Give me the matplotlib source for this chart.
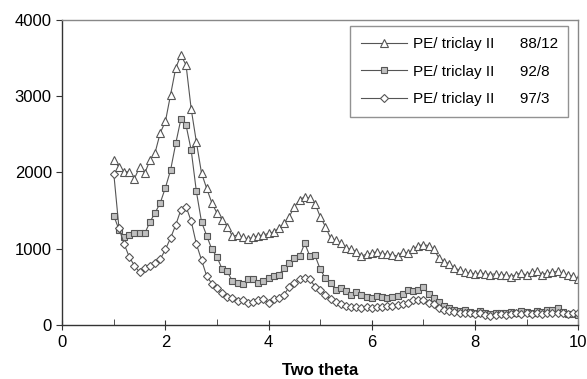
import matplotlib.pyplot as plt
from matplotlib.ticker import MultipleLocator

plt.rcParams['font.family'] = ['Liberation Sans', 'DejaVu Sans']

two_theta = [1.0, 1.1, 1.2, 1.3, 1.4, 1.5, 1.6, 1.7, 1.8, 1.9,
             2.0, 2.1, 2.2, 2.3, 2.4, 2.5, 2.6, 2.7, 2.8, 2.9,
             3.0, 3.1, 3.2, 3.3, 3.4, 3.5, 3.6, 3.7, 3.8, 3.9,
             4.0, 4.1, 4.2, 4.3, 4.4, 4.5, 4.6, 4.7, 4.8, 4.9,
             5.0, 5.1, 5.2, 5.3, 5.4, 5.5, 5.6, 5.7, 5.8, 5.9,
             6.0, 6.1, 6.2, 6.3, 6.4, 6.5, 6.6, 6.7, 6.8, 6.9,
             7.0, 7.1, 7.2, 7.3, 7.4, 7.5, 7.6, 7.7, 7.8, 7.9,
             8.0, 8.1, 8.2, 8.3, 8.4, 8.5, 8.6, 8.7, 8.8, 8.9,
             9.0, 9.1, 9.2, 9.3, 9.4, 9.5, 9.6, 9.7, 9.8, 9.9,
             10.0]

# PE/ triclay II 88/12
pe_88_12 = [2160, 2070, 2010, 2010, 1920, 2070, 1990, 2160, 2260, 2520,
            2670, 3020, 3370, 3540, 3410, 2830, 2400, 1990, 1790, 1600,
            1465, 1380, 1290, 1160, 1180, 1150, 1125, 1150, 1170, 1180,
            1200, 1220, 1270, 1330, 1420, 1550, 1640, 1680, 1660, 1590,
            1420, 1290, 1140, 1110, 1070, 1010, 990, 960, 900, 930,
            940, 960, 930, 930, 920, 900, 960, 940, 990, 1040,
            1050, 1040, 990, 880, 830, 800, 745, 720, 690, 680,
            670, 680, 670, 660, 670, 650, 660, 630, 660, 680,
            650, 690, 700, 660, 680, 690, 700, 680, 650, 640,
            600]

# PE/ triclay II 92/8
pe_92_8 = [1430, 1250, 1150, 1180, 1200, 1210, 1200, 1350, 1470, 1600,
           1800, 2030, 2380, 2700, 2620, 2290, 1750, 1350, 1170, 990,
           890, 730, 700, 570, 550, 540, 600, 600, 545, 580,
           610, 640, 660, 740, 810, 875, 900, 1070, 900, 910,
           730, 610, 545, 460, 480, 440, 395, 430, 390, 370,
           350, 380, 360, 350, 370, 380, 400, 460, 450, 460,
           490, 400, 350, 300, 250, 220, 200, 180, 190, 170,
           160, 180, 150, 140, 160, 150, 160, 170, 160, 180,
           170, 160, 180, 170, 190, 200, 220, 170, 140, 140,
           130]

# PE/ triclay II 97/3
pe_97_3 = [1980, 1270, 1060, 890, 775, 690, 740, 775, 810, 860,
           990, 1140, 1310, 1510, 1550, 1360, 1060, 850, 640, 540,
           480, 415, 370, 350, 310, 320, 290, 300, 320, 340,
           290, 340, 350, 395, 500, 545, 600, 610, 600, 500,
           460, 390, 340, 300, 275, 250, 240, 240, 225, 230,
           220, 230, 240, 250, 250, 260, 270, 290, 320, 330,
           320, 290, 270, 220, 200, 185, 170, 160, 155, 150,
           140, 150, 130, 120, 130, 140, 130, 140, 150, 140,
           150, 140, 150, 140, 150, 160, 160, 150, 140, 150,
           150]

fig = plt.figure(figsize=(5.87, 3.79), dpi=100)
ax = fig.add_axes([0.106, 0.143, 0.879, 0.804])

line_col = '#555555'
ax.plot(two_theta, pe_88_12, color=line_col, lw=0.8, marker='^', ms=5.5,
        mfc='white', mec='#555555', mew=0.8,
        label='PE/ triclay II      88/12')
ax.plot(two_theta, pe_92_8, color=line_col, lw=0.8, marker='s', ms=5,
        mfc='#c0c0c0', mec='#555555', mew=0.8,
        label='PE/ triclay II      92/8')
ax.plot(two_theta, pe_97_3, color=line_col, lw=0.8, marker='D', ms=3.8,
        mfc='white', mec='#555555', mew=0.8,
        label='PE/ triclay II      97/3')

ax.set_xlim(0, 10)
ax.set_ylim(0, 4000)
ax.xaxis.set_major_locator(MultipleLocator(2))
ax.xaxis.set_minor_locator(MultipleLocator(1))
ax.yaxis.set_major_locator(MultipleLocator(1000))
ax.tick_params(axis='x', which='major', direction='inout', length=7,
               labelsize=12, color='#333333', pad=4)
ax.tick_params(axis='x', which='minor', direction='in', length=4,
               color='#333333')
ax.tick_params(axis='y', direction='out', length=4, labelsize=12,
               color='#333333')
ax.set_xlabel('Two theta', fontsize=12, fontweight='bold', labelpad=9)

for side in ['left', 'bottom']:
    ax.spines[side].set_color('#333333')
    ax.spines[side].set_linewidth(1.0)
for side in ['top', 'right']:
    ax.spines[side].set_color('#888888')
    ax.spines[side].set_linewidth(1.0)

leg = ax.legend(loc='upper right', bbox_to_anchor=(0.99, 0.995),
                fontsize=11, frameon=True, fancybox=False,
                handlelength=3.0, labelspacing=0.9, borderpad=0.7,
                handletextpad=0.4, borderaxespad=0.3)
leg.get_frame().set_edgecolor('#777777')
leg.get_frame().set_linewidth(1.0)
leg._legend_box.align = 'right'

fig.savefig('out.png', dpi=100)
